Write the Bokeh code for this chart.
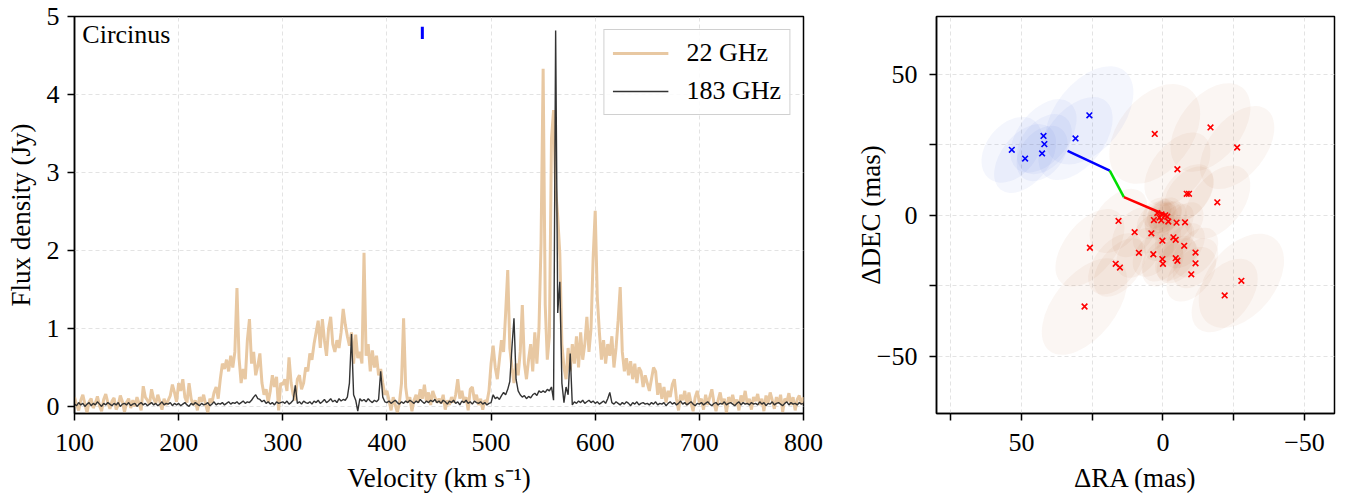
from bokeh.plotting import figure
from bokeh.models import Range1d, FixedTicker, Legend, LegendItem, Label
from bokeh.layouts import row
from bokeh.embed import file_html
from bokeh.resources import INLINE

FONT = "Liberation Serif"

# ---------------- data: spectra ----------------
velocity = list(range(100, 801, 2))  # km/s channel axis

flux_22 = [
    0.12, 0.02, -0.05, 0.08, 0.15, 0.03, -0.08, 0.06, 0.10, -0.02, 0.04, 0.13, 0.01, -0.06, 0.09, 0.16, 0.05, -0.03, 0.07, 0.11, -0.04, 0.02, 0.14, 0.06, -0.07,
    0.05, 0.10, -0.02, 0.08, 0.00, 0.12, 0.04, -0.05, 0.26, 0.12, 0.08, 0.03, 0.22, 0.10, 0.04, 0.15, 0.06, -0.04, 0.10, 0.02, 0.08, 0.14, 0.28, 0.18, 0.06,
    0.30, 0.20, 0.35, 0.12, 0.05, 0.30, 0.10, 0.02, 0.08, -0.05, 0.12, 0.06, 0.15, 0.02, -0.08, 0.10, 0.05, 0.18, 0.25, 0.10, 0.35, 0.55, 0.48, 0.60, 0.45,
    0.65, 0.50, 0.70, 1.52, 0.62, 0.30, 0.48, 0.35, 0.85, 1.12, 0.55, 0.70, 0.40, 0.52, 0.68, 0.30, 0.15, 0.22, 0.05, 0.20, 0.40, 0.25, 0.38, -0.05, 0.30,
    0.28, 0.35, 0.20, 0.63, 0.30, 0.15, 0.08, 0.35, 0.40, 0.22, 0.30, 0.50, 0.45, 0.68, 0.60, 0.80, 0.95, 1.10, 0.75, 1.12, 0.85, 0.65, 1.00, 1.15, 0.80,
    0.70, 0.85, 0.75, 0.95, 1.25, 1.05, 0.90, 0.78, 0.95, 0.55, 0.92, 0.62, 0.70, 0.55, 1.97, 0.65, 0.80, 0.45, 0.72, 0.50, 0.65, 0.40, 0.48, 0.30, 0.15,
    0.20, 0.08, -0.05, 0.12, 0.02, -0.08, 0.05, 0.30, 1.13, 0.25, 0.05, 0.12, -0.06, 0.08, 0.15, 0.05, 0.22, 0.10, 0.28, 0.06, 0.18, 0.02, 0.20, 0.12, 0.05,
    0.10, 0.04, 0.15, -0.04, 0.08, 0.02, 0.12, 0.05, 0.15, 0.35, 0.10, 0.20, 0.05, 0.12, -0.05, 0.22, 0.25, 0.08, 0.15, 0.02, 0.10, -0.04, 0.08, 0.05, 0.20,
    0.55, 0.78, 0.50, 0.35, 0.60, 0.85, 0.70, 1.20, 1.75, 0.75, 0.50, 0.30, 0.55, 0.40, 0.70, 1.30, 0.55, 0.35, 0.60, 0.80, 0.45, 0.95, 0.55, 1.00, 2.10,
    4.33, 1.30, 0.60, 0.90, 3.43, 3.80, 2.80, 2.43, 1.96, 0.80, 0.50, 0.35, 0.75, 0.45, 0.80, 0.55, 0.90, 0.50, 0.95, 0.60, 0.80, 1.15, 0.70, 1.00, 1.90,
    2.51, 1.40, 0.95, 0.60, 0.85, 0.55, 0.80, 0.65, 0.90, 0.50, 0.75, 1.10, 1.53, 0.70, 0.45, 0.62, 0.40, 0.58, 0.35, 0.55, 0.30, 0.50, 0.45, 0.25, 0.40,
    0.30, 0.20, 0.35, 0.50, 0.45, 0.15, 0.30, 0.10, 0.25, 0.05, 0.20, 0.12, 0.28, 0.35, 0.10, -0.05, 0.15, 0.08, 0.20, 0.02, 0.18, 0.05, -0.06, 0.12, 0.20,
    0.05, 0.10, -0.04, 0.15, 0.02, 0.12, 0.22, 0.05, -0.06, 0.08, 0.18, 0.03, 0.10, -0.08, 0.12, 0.05, 0.15, 0.02, 0.09, -0.05, 0.14, 0.06, 0.20, 0.03, 0.10,
    -0.04, 0.12, 0.07, 0.16, 0.02, 0.10, -0.06, 0.14, 0.05, 0.18, 0.08, -0.03, 0.12, 0.04, 0.15, -0.07, 0.10, 0.06, 0.17, 0.02, 0.12, -0.05, 0.09, 0.14, 0.03,
    0.12,
]

flux_183 = [
    0.03, 0.01, 0.05, 0.02, 0.04, 0.00, 0.03, 0.05, 0.01, 0.04, 0.02, 0.06, 0.03, 0.00, 0.04, 0.02, 0.05, 0.03, 0.01, 0.04, 0.02, 0.05, 0.00, 0.03, 0.04,
    0.02, 0.05, 0.01, 0.03, 0.04, 0.00, 0.03, 0.05, 0.02, 0.04, 0.01, 0.03, 0.05, 0.02, 0.04, 0.01, 0.03, 0.06, 0.02, 0.04, 0.03, 0.05, 0.01, 0.04, 0.02,
    0.04, 0.01, 0.03, 0.05, 0.02, 0.00, 0.04, 0.02, 0.05, 0.03, 0.01, 0.04, 0.02, 0.03, 0.05, 0.01, 0.03, 0.06, 0.02, 0.04, 0.03, 0.05, 0.02, 0.04, 0.06,
    0.03, 0.05, 0.04, 0.06, 0.03, 0.05, 0.07, 0.04, 0.06, 0.05, 0.08, 0.12, 0.15, 0.10, 0.09, 0.06, 0.08, 0.04, 0.06, 0.03, 0.05, 0.02, 0.06, 0.04, 0.05,
    0.06, 0.04, 0.07, 0.03, 0.05, 0.08, 0.27, 0.04, 0.06, 0.03, 0.07, 0.05, 0.04, 0.06, 0.03, 0.07, 0.05, 0.08, 0.04, 0.06, 0.09, 0.05, 0.07, 0.10, 0.06,
    0.08, 0.05, 0.10, 0.07, 0.09, 0.08, 0.12, 0.30, 0.93, 0.15, 0.08, -0.06, 0.10, 0.07, 0.09, 0.06, 0.10, 0.07, 0.05, 0.08, 0.06, 0.09, 0.45, 0.12, 0.06,
    0.05, 0.07, 0.04, 0.06, 0.08, 0.05, 0.03, 0.06, 0.04, 0.07, 0.05, 0.08, 0.06, 0.04, 0.07, 0.05, 0.09, 0.06, 0.04, 0.07, 0.05, 0.08, 0.06, 0.09, 0.05,
    0.07, 0.04, 0.08, 0.06, 0.03, 0.07, 0.05, 0.08, 0.04, 0.06, 0.02, 0.07, 0.05, 0.08, 0.04, 0.06, 0.03, 0.07, 0.05, 0.04, 0.06, 0.03, 0.05, 0.02, 0.04,
    0.05, 0.15, 0.10, 0.12, 0.09, 0.14, 0.18, 0.15, 0.22, 0.32, 0.75, 1.13, 0.35, 0.20, 0.15, 0.12, 0.14, 0.10, 0.13, 0.11, 0.15, 0.17, 0.14, 0.20, 0.18,
    0.20, 0.18, 0.22, 0.20, 0.25, 0.08, 4.82, 1.20, 1.60, 0.30, 0.05, 0.25, 0.15, 0.68, 0.02, 0.06, 0.04, 0.07, 0.05, 0.08, 0.04, 0.06, 0.08, 0.05, 0.07,
    0.04, 0.06, 0.03, 0.05, 0.07, 0.04, 0.10, 0.18, 0.05, 0.03, 0.06, 0.04, 0.02, 0.05, 0.03, 0.06, 0.04, 0.01, 0.05, 0.03, 0.06, 0.02, 0.04, 0.05, 0.03,
    0.04, 0.02, 0.05, 0.03, 0.06, 0.02, 0.04, 0.03, 0.05, 0.01, 0.04, 0.06, 0.03, 0.05, 0.02, 0.04, 0.07, 0.03, 0.05, 0.02, 0.04, 0.06, 0.03, 0.01, 0.04,
    0.03, 0.05, 0.02, 0.04, 0.06, 0.03, 0.01, 0.04, 0.05, 0.02, 0.04, 0.03, 0.06, 0.02, 0.04, 0.05, 0.03, 0.01, 0.04, 0.06, 0.02, 0.05, 0.03, 0.04, 0.02,
    0.05, 0.03, 0.04, 0.02, 0.06, 0.03, 0.05, 0.01, 0.04, 0.03, 0.06, 0.02, 0.04, 0.05, 0.03, 0.01, 0.04, 0.06, 0.02, 0.05, 0.03, 0.04, 0.02, 0.05, 0.03,
    0.04,
]

systemic_velocity = [434.0]
systemic_flux_low = [4.71]
systemic_flux_high = [4.87]

series_labels = ["22 GHz", "183 GHz"]
source_name = "Circinus"

# ---------------- data: maser spot map (mas) ----------------
blue_ra = [53.4, 48.7, 42.2, 41.9, 42.7, 30.9, 26.0]
blue_dec = [23.2, 20.1, 28.1, 25.2, 21.9, 27.2, 35.4]
blue_major = [26, 28, 30, 24, 22, 34, 40]
blue_minor = [18, 17, 18, 16, 15, 20, 24]

red_ra = [2.9, -16.8, -26.2, -5.1, -8.4, -9.2, -19.2, 15.7, 10.0, 4.1,
          0.5, -0.8, 1.2, 3.2, 0.6, -1.9, -4.8, -7.8, 0.2, -3.7,
          -4.5, -7.5, 25.8, 8.5, 3.4, 0.2, 0.0, -4.5, -5.1, -11.5,
          -11.5, -10.0, 16.7, 15.2, -27.7, -21.8, 27.7, -1.5, 2.0]
red_dec = [28.8, 31.1, 24.0, 16.3, 7.6, 7.6, 4.6, -2.0, -6.0, -6.4,
           0.3, 0.0, -0.8, -1.7, -1.8, -2.2, -2.6, -2.5, -9.0, -7.8,
           -8.7, -10.8, -11.5, -13.3, -13.8, -15.5, -17.2, -15.2, -16.1, -13.2,
           -17.0, -20.9, -17.2, -18.5, -23.2, -28.4, -32.3, -0.5, 0.8]
red_major = [40, 36, 34, 30, 24, 22, 30, 26, 20, 16,
             12, 14, 13, 15, 14, 16, 15, 16, 16, 16,
             16, 18, 32, 20, 18, 18, 18, 18, 18, 20,
             20, 22, 25, 24, 38, 30, 40, 12, 12]
red_minor = [26, 22, 20, 18, 15, 14, 18, 16, 13, 11,
             9, 10, 9, 10, 10, 11, 10, 11, 11, 11,
             11, 12, 18, 13, 12, 12, 12, 12, 12, 13,
             13, 14, 15, 14, 24, 18, 22, 9, 9]

path_ra = [33.7, 18.8, 13.8, -1.0]
path_dec = [22.8, 15.8, 6.4, 0.1]
path_colors = ["#0000ff", "#00dd00", "#ff0000"]

ellipse_angle = 0.9  # rad


def style(p):
    p.outline_line_color = "black"
    p.outline_line_width = 1.5
    p.outline_line_alpha = 1.0
    p.background_fill_color = "white"
    p.border_fill_color = "white"
    for ax in (p.xaxis[0], p.yaxis[0]):
        ax.axis_line_width = 1.5
        ax.axis_line_color = "black"
        ax.major_tick_line_width = 1.5
        ax.major_tick_line_color = "black"
        ax.major_tick_out = 7
        ax.major_tick_in = 0
        ax.minor_tick_out = 0
        ax.minor_tick_in = 0
        ax.major_label_text_font = FONT
        ax.major_label_text_font_size = "26px"
        ax.major_label_text_color = "black"
        ax.axis_label_text_font = FONT
        ax.axis_label_text_font_size = "27px"
        ax.axis_label_text_font_style = "normal"
        ax.axis_label_text_color = "black"
    p.xaxis[0].major_label_standoff = 13
    p.xaxis[0].axis_label_standoff = 9
    p.yaxis[0].major_label_standoff = 8
    p.yaxis[0].axis_label_standoff = 8
    for g in (p.xgrid[0], p.ygrid[0]):
        g.grid_line_color = "#e3e3e3"
        g.grid_line_dash = "4 3"
        g.grid_line_width = 1


H = 497
# ---------------- left: spectrum ----------------
p1 = figure(width=850, height=H, x_range=Range1d(100, 800), y_range=Range1d(-0.09, 5.0),
            output_backend="svg", toolbar_location=None,
            min_border_left=74, min_border_right=47, min_border_top=16, min_border_bottom=84)
style(p1)
p1.xaxis.ticker = FixedTicker(ticks=[100, 200, 300, 400, 500, 600, 700, 800])
p1.yaxis.ticker = FixedTicker(ticks=[0, 1, 2, 3, 4, 5])
p1.xaxis.axis_label = "Velocity (km s\u207b\u00b9)"
p1.yaxis.axis_label = "Flux density (Jy)"

r22 = p1.line(velocity, flux_22, line_color="#e8c8a2", line_width=3)
r183 = p1.line(velocity, flux_183, line_color="#333333", line_width=1.4)
p1.segment(x0=systemic_velocity, y0=systemic_flux_low, x1=systemic_velocity, y1=systemic_flux_high,
           line_color="#0000ff", line_width=3)

legend = Legend(items=[LegendItem(label=series_labels[0], renderers=[r22]),
                       LegendItem(label=series_labels[1], renderers=[r183])],
                location="top_right")
legend.label_text_font = FONT
legend.label_text_font_size = "26px"
legend.label_text_color = "black"
legend.glyph_width = 56
legend.glyph_height = 30
legend.label_height = 30
legend.label_standoff = 18
legend.spacing = 8
legend.padding = 8
legend.margin = 13
legend.border_line_color = "#d0d0d0"
legend.border_line_width = 1.5
legend.border_line_alpha = 1.0
legend.background_fill_alpha = 0.85
p1.add_layout(legend)

p1.add_layout(Label(x=107.5, y=4.95, text=source_name, text_baseline="top",
                    text_font=FONT, text_font_size="26px", text_color="black"))

# ---------------- right: spot map ----------------
p2 = figure(width=494, height=H, x_range=Range1d(80.0, -60.6), y_range=Range1d(-70.2, 70.4),
            output_backend="svg", toolbar_location=None,
            min_border_left=86, min_border_right=10, min_border_top=16, min_border_bottom=84)
style(p2)
for ax in (p2.xaxis[0], p2.yaxis[0]):
    ax.ticker = FixedTicker(ticks=[50, 0, -50], minor_ticks=[75, 25, -25, -75])
    ax.minor_tick_out = 7
    ax.minor_tick_in = 0
    ax.minor_tick_line_width = 1.5
    ax.minor_tick_line_color = "black"
    ax.major_label_overrides = {-50: "\u221250"}
for g in (p2.xgrid[0], p2.ygrid[0]):
    g.minor_grid_line_color = "#e3e3e3"
    g.minor_grid_line_dash = "4 3"
    g.minor_grid_line_width = 1
p2.xaxis.axis_label = "\u0394RA (mas)"
p2.yaxis.axis_label = "\u0394DEC (mas)"
p2.yaxis.major_label_standoff = 12
p2.yaxis.axis_label_standoff = -12

p2.ellipse(x=red_ra, y=red_dec, width=red_major, height=red_minor, angle=ellipse_angle,
           fill_color="#b5562d", fill_alpha=0.055, line_color=None)
p2.ellipse(x=blue_ra, y=blue_dec, width=blue_major, height=blue_minor, angle=ellipse_angle,
           fill_color="#4169e1", fill_alpha=0.06, line_color=None)
p2.segment(x0=path_ra[:-1], y0=path_dec[:-1], x1=path_ra[1:], y1=path_dec[1:],
           line_color=path_colors, line_width=2.5)
p2.scatter(blue_ra, blue_dec, marker="x", size=8, line_color="#0000ff", line_width=1.6)
p2.scatter(red_ra, red_dec, marker="x", size=8, line_color="#ff0000", line_width=1.6)

layout = row(p1, p2)
open("out.html", "w").write(file_html(layout, INLINE))
